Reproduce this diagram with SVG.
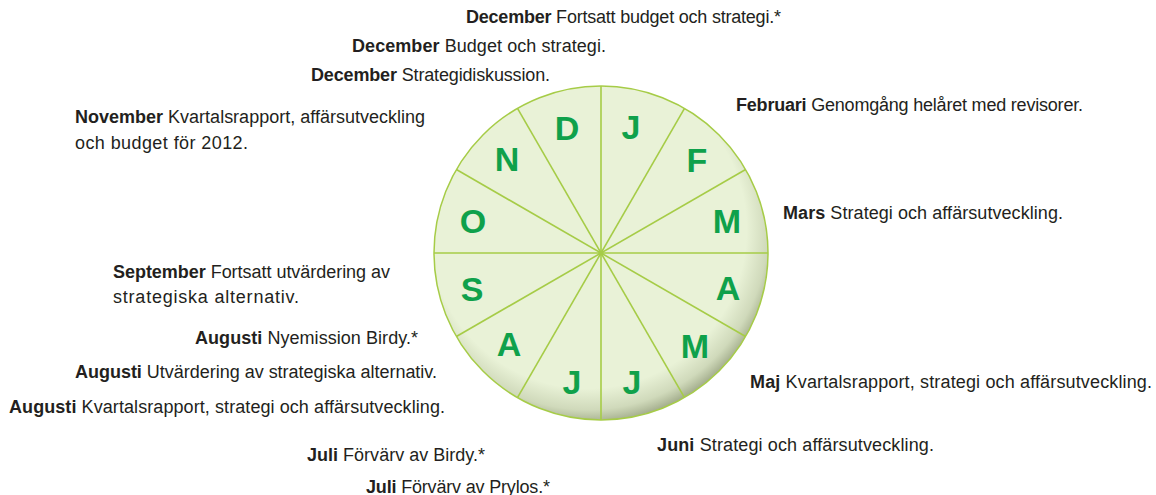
<svg xmlns="http://www.w3.org/2000/svg" width="1156" height="495" viewBox="0 0 1156 495">
<style>
.t{font-family:"Liberation Sans",Arial,sans-serif;font-size:18px;fill:#231f20}
.b{font-weight:bold}
.m{font-family:"Liberation Sans",Arial,sans-serif;font-size:34px;font-weight:bold;fill:#0fa14b;text-anchor:middle}
.sp{stroke:#a6cc47;stroke-width:1.6;fill:none}
</style>
<defs>
<radialGradient id="shade" cx="0.46" cy="0.43" r="0.58">
<stop offset="0.82" stop-color="#5d6a3a" stop-opacity="0"/>
<stop offset="0.93" stop-color="#5d6a3a" stop-opacity="0.18"/>
<stop offset="1" stop-color="#4a5530" stop-opacity="0.45"/>
</radialGradient>
<clipPath id="cc"><circle cx="601" cy="253" r="167"/></clipPath>
</defs>
<rect width="1156" height="495" fill="#ffffff"/>
<g id="wheel">
<circle cx="601" cy="253" r="167" fill="#e9f2d7"/>
<circle cx="601" cy="253" r="167" fill="url(#shade)" clip-path="url(#cc)"/>
<circle cx="601" cy="253" r="167" fill="none" stroke="#a6cc47" stroke-width="1.5"/>
</g>
<g id="spokes">
<line class="sp" x1="601" y1="86" x2="601" y2="420"/>
<line class="sp" x1="434" y1="253" x2="768" y2="253"/>
<line class="sp" x1="684.5" y1="108.4" x2="517.5" y2="397.6"/>
<line class="sp" x1="745.6" y1="169.5" x2="456.4" y2="336.5"/>
<line class="sp" x1="517.5" y1="108.4" x2="684.5" y2="397.6"/>
<line class="sp" x1="456.4" y1="169.5" x2="745.6" y2="336.5"/>
<circle cx="601" cy="253" r="2.5" fill="#a6cc47"/>
</g>
<g id="months">
<text class="m" x="567" y="140">D</text>
<text class="m" x="631" y="139">J</text>
<text class="m" x="697" y="172">F</text>
<text class="m" x="727" y="233">M</text>
<text class="m" x="728" y="300">A</text>
<text class="m" x="695" y="358">M</text>
<text class="m" x="632" y="394">J</text>
<text class="m" x="572" y="394">J</text>
<text class="m" x="509" y="356">A</text>
<text class="m" x="472" y="301">S</text>
<text class="m" x="473" y="233">O</text>
<text class="m" x="507" y="171">N</text>
</g>
<g id="labels">
<text class="t" x="466" y="23" textLength="315"><tspan class="b">December</tspan> Fortsatt budget och strategi.*</text>
<text class="t" x="352" y="52" textLength="254"><tspan class="b">December</tspan> Budget och strategi.</text>
<text class="t" x="311" y="81" textLength="239"><tspan class="b">December</tspan> Strategidiskussion.</text>
<text class="t" x="75" y="123" textLength="350"><tspan class="b">November</tspan> Kvartalsrapport, affärsutveckling</text>
<text class="t" x="75" y="149" textLength="173">och budget för 2012.</text>
<text class="t" x="736" y="111" textLength="347"><tspan class="b">Februari</tspan> Genomgång helåret med revisorer.</text>
<text class="t" x="783" y="219" textLength="280"><tspan class="b">Mars</tspan> Strategi och affärsutveckling.</text>
<text class="t" x="113" y="278" textLength="277"><tspan class="b">September</tspan> Fortsatt utvärdering av</text>
<text class="t" x="113" y="303" textLength="186">strategiska alternativ.</text>
<text class="t" x="195" y="344" textLength="223"><tspan class="b">Augusti</tspan> Nyemission Birdy.*</text>
<text class="t" x="75" y="378" textLength="362"><tspan class="b">Augusti</tspan> Utvärdering av strategiska alternativ.</text>
<text class="t" x="9" y="413" textLength="436"><tspan class="b">Augusti</tspan> Kvartalsrapport, strategi och affärsutveckling.</text>
<text class="t" x="750" y="388" textLength="402"><tspan class="b">Maj</tspan> Kvartalsrapport, strategi och affärsutveckling.</text>
<text class="t" x="657" y="451" textLength="277"><tspan class="b">Juni</tspan> Strategi och affärsutveckling.</text>
<text class="t" x="307" y="461" textLength="178"><tspan class="b">Juli</tspan> Förvärv av Birdy.*</text>
<text class="t" x="366" y="493" textLength="184"><tspan class="b">Juli</tspan> Förvärv av Prylos.*</text>
</g>
</svg>
